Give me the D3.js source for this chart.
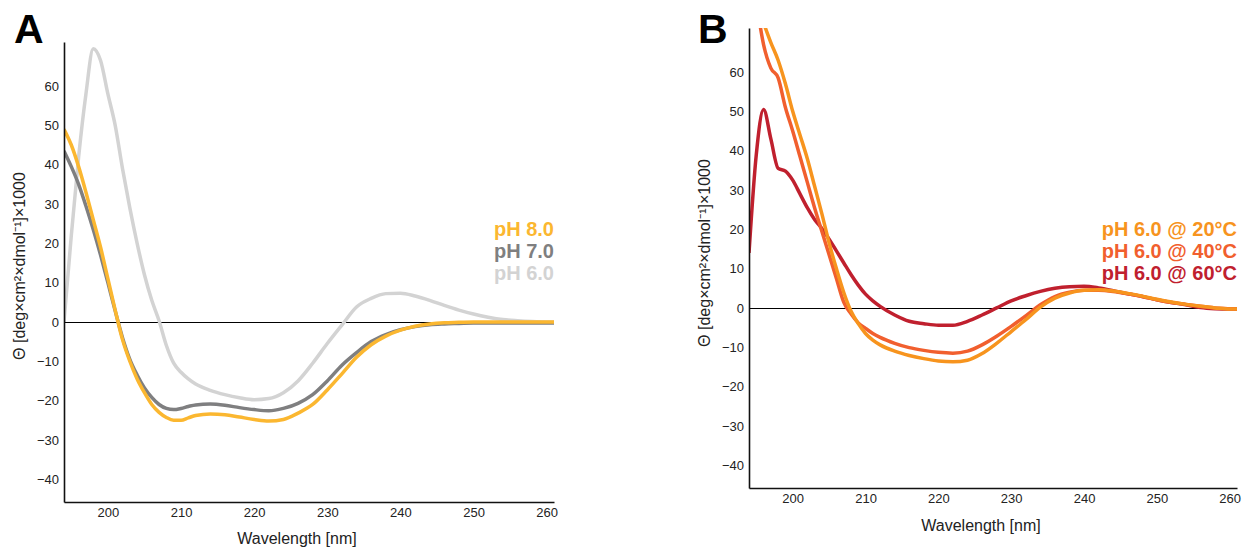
<!DOCTYPE html>
<html>
<head>
<meta charset="utf-8">
<script src="https://cdn.jsdelivr.net/npm/d3@7"></script>
<style>
body { margin: 0; background: #fff; }
text { font-family: "Liberation Sans", Arial, Helvetica, sans-serif; }
</style>
</head>
<body>
<div id="chart"></div>
<script>
const width = 1246
const height = 550

// wavelength grid (nm) shared by all curves
const wavelengths = [194, 195, 196, 197, 198, 199, 200, 201, 202, 203, 204, 205, 206, 207, 208, 209, 210, 211, 212,
    214, 216, 218, 220, 222, 224, 226, 228, 230, 232, 234, 236, 238, 240, 242, 244, 246, 248, 250, 252, 254, 256, 258, 260, 261]
const xTicks = [200, 210, 220, 230, 240, 250, 260]
const yTicks = [-40, -30, -20, -10, 0, 10, 20, 30, 40, 50, 60]

// panel A: pH series
const ph8 = [49, 45, 39.5, 33, 26, 19, 11, 3, -4.5, -10, -14.5, -18, -21, -23, -24.3, -25, -25, -24.4, -23.8,
    -23.4, -23.6, -24.2, -24.8, -25.2, -24.8, -23.2, -21, -17.3, -13.2, -9, -5.8, -3.6, -2.1, -1.1, -0.5, -0.2, -0.1, 0, 0, 0, 0, 0, 0, 0]
const ph7 = [43.5, 39.5, 35, 29.5, 23.5, 17, 10, 2.8, -4, -9.5, -13.5, -16.8, -19.2, -21, -22, -22.3, -22, -21.5, -21.1,
    -20.9, -21.2, -21.8, -22.3, -22.6, -22, -20.7, -18.5, -15, -11, -7.8, -5, -3.2, -2, -1.2, -0.7, -0.5, -0.4, -0.3, -0.3, -0.3, -0.3, -0.3, -0.3, -0.3]
const ph6 = [0, 22, 42, 58, 69.5, 66.5, 58, 50, 39, 29, 20, 12, 5.5, 0.3, -6, -10.5, -12.8, -14.5, -15.8,
    -17.4, -18.5, -19.3, -19.8, -19.5, -18, -15, -10.5, -5.5, -0.8, 3.8, 6, 7.2, 7.3, 6.6, 5.5, 4.2, 3, 2, 1.2, 0.6, 0.3, 0.1, 0, 0]
const phLabels = ["pH 8.0", "pH 7.0", "pH 6.0"]

// panel B: temperature series at pH 6.0
const t20 = [null, 78, 72.5, 67.5, 63, 57, 50, 44, 38, 31, 24, 16.5, 10, 4, -0.8, -4, -6.5, -8.2, -9.4,
    -11, -12.1, -12.9, -13.5, -13.7, -13.3, -11.6, -9, -6, -3, 0.2, 2.5, 3.8, 4.5, 4.6, 4.3, 3.7, 3, 2.2, 1.5, 0.9, 0.4, 0, -0.3, -0.3]
const t40 = [null, 78, 67, 61, 58.5, 51, 45, 38.5, 32, 25.5, 19.5, 13.5, 7.5, 1.5, -1.5, -3.8, -5.2, -6.5, -7.5,
    -9, -10.1, -10.8, -11.3, -11.5, -11, -9.4, -7.2, -4.7, -2, 0.8, 2.9, 4, 4.5, 4.5, 4.2, 3.6, 2.9, 2.1, 1.4, 0.9, 0.4, 0, -0.2, -0.3]
const t60 = [14, 39, 50.5, 43, 35.5, 34.8, 32.5, 29, 25.5, 22.5, 20.2, 17.5, 14.5, 11.5, 8.5, 5.8, 3.5, 1.8, 0.4,
    -1.8, -3.4, -4, -4.4, -4.4, -3.4, -1.8, 0, 1.8, 3.1, 4.2, 5, 5.4, 5.5, 5.1, 4.4, 3.6, 2.9, 2.1, 1.4, 0.8, 0.1, -0.2, -0.3, -0.3]
const tempLabels = ["pH 6.0 @ 20°C", "pH 6.0 @ 40°C", "pH 6.0 @ 60°C"]

const svg = d3.select("#chart").append("svg").attr("width", width).attr("height", height)

function drawPanel(p) {
    const x = d3.scaleLinear().domain([194, 261]).range([p.left, p.right])
    const y = d3.scaleLinear().domain([-45.8, 71.2]).range([p.bottom, p.top])
    const g = svg.append("g")

    g.append("clipPath").attr("id", "clip" + p.letter)
        .append("rect").attr("x", p.left).attr("y", p.top)
        .attr("width", p.right - p.left).attr("height", p.bottom - p.top)

    // zero line, snapped to the pixel grid so it stays dark
    const y0 = Math.round(y(0)) + 0.5
    g.append("line")
        .attr("x1", x(194)).attr("x2", x(261))
        .attr("y1", y0).attr("y2", y0)
        .attr("stroke", "#000").attr("stroke-width", 1)

    const line = d3.line()
        .defined(d => d[1] !== null)
        .x(d => x(d[0])).y(d => y(d[1]))
        .curve(d3.curveMonotoneX)

    // drawn back to front
    p.series.slice().reverse().forEach((s, i) => {
        const color = p.colors[p.series.length - 1 - i]
        g.append("path")
            .datum(wavelengths.map((w, k) => [w, s[k]]))
            .attr("clip-path", `url(#clip${p.letter})`)
            .attr("fill", "none")
            .attr("stroke", color)
            .attr("stroke-width", 3.5)
            .attr("stroke-linejoin", "round")
            .attr("d", line)
    })

    const xAxis = d3.axisBottom(x).tickValues(xTicks).tickSize(0).tickSizeOuter(0).tickPadding(6)
    const yAxis = d3.axisLeft(y).tickValues(yTicks).tickSize(0).tickSizeOuter(0).tickPadding(5)

    const xg = g.append("g").attr("transform", `translate(0, ${p.bottom})`).call(xAxis)
    const yg = g.append("g").attr("transform", `translate(${p.left}, 0)`).call(yAxis)
    ;[xg, yg].forEach(a => {
        a.select(".domain").attr("stroke", "#111").attr("stroke-width", 1.6)
        a.selectAll("text").attr("font-size", 13).attr("fill", "#222")
            .style("font-family", "'Liberation Sans', Arial, sans-serif")
    })

    // axis titles
    g.append("text")
        .attr("x", p.xTitleX).attr("y", p.xTitleY)
        .attr("text-anchor", "middle").attr("font-size", 16).attr("fill", "#222")
        .text("Wavelength [nm]")
    g.append("text")
        .attr("transform", `translate(${p.yTitleX}, ${p.yTitleY}) rotate(-90)`)
        .attr("text-anchor", "middle").attr("font-size", 16).attr("fill", "#222")
        .text("Θ [deg×cm²×dmol⁻¹]×1000")

    // panel letter
    g.append("text")
        .attr("x", p.letterX).attr("y", 43)
        .attr("font-size", 41).attr("font-weight", "bold").attr("fill", "#000")
        .text(p.letter)

    // legend
    g.selectAll(".legend").data(p.labels).join("text")
        .attr("class", "legend")
        .attr("x", p.right)
        .attr("y", (d, i) => 236 + i * 22)
        .attr("text-anchor", "end")
        .attr("font-size", 20).attr("font-weight", "bold")
        .attr("fill", (d, i) => p.colors[i])
        .text(d => d)
}

drawPanel({
    letter: "A", letterX: 14,
    left: 64, right: 554, top: 42, bottom: 502,
    series: [ph8, ph7, ph6],
    colors: ["#fbb730", "#7f7f80", "#d3d3d3"],
    labels: phLabels,
    xTitleX: 297, xTitleY: 544,
    yTitleX: 25, yTitleY: 266
})

drawPanel({
    letter: "B", letterX: 698,
    left: 749, right: 1237, top: 28, bottom: 488,
    series: [t20, t40, t60],
    colors: ["#f7941e", "#f15f2e", "#c0202e"],
    labels: tempLabels,
    xTitleX: 981, xTitleY: 531,
    yTitleX: 710, yTitleY: 253
})
</script>
</body>
</html>
